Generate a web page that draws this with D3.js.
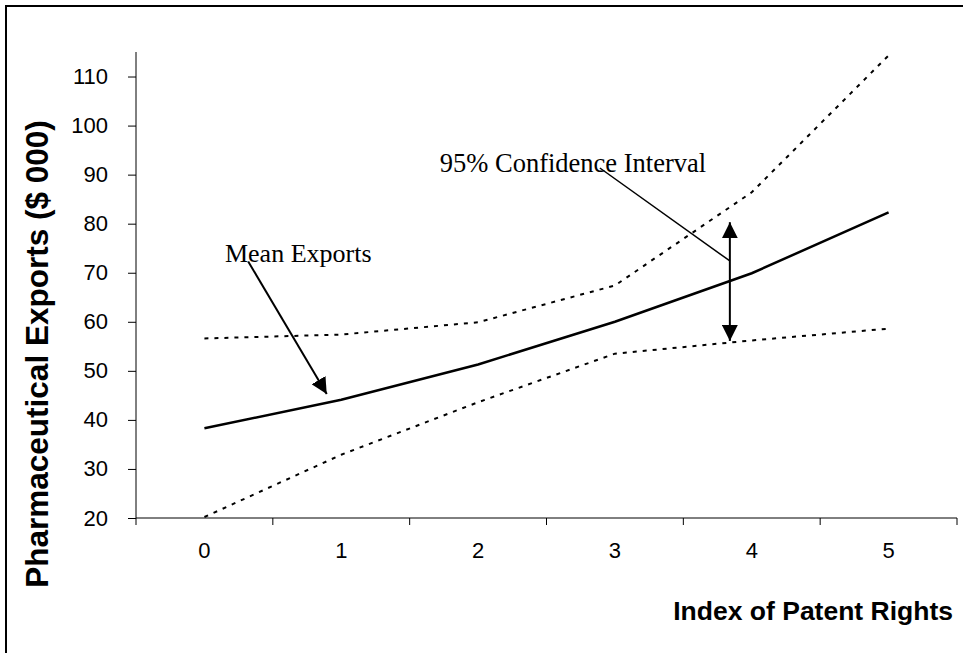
<!DOCTYPE html>
<html><head><meta charset="utf-8">
<script src="https://cdn.jsdelivr.net/npm/d3@7"></script>
<style>html,body{margin:0;padding:0;background:#fff;}svg{display:block;}</style>
</head><body>
<svg id="chart" width="963" height="653"></svg>
<script>
const categories = ["0","1","2","3","4","5"];
const meanExports = [38.3, 44.1, 51.3, 60.0, 69.9, 82.3];
const upperCI = [56.6, 57.4, 59.9, 67.4, 86.4, 114.3];
const lowerCI = [20.2, 32.9, 43.6, 53.5, 56.2, 58.6];
const yTicks = [20,30,40,50,60,70,80,90,100,110];
const yDomain = [20,115];

const svg = d3.select("#chart");

// outer frame (cropped on right/bottom)
svg.append("rect").attr("x",6).attr("y",6).attr("width",1000).attr("height",700)
  .attr("fill","none").attr("stroke","#000").attr("stroke-width",2);

const x = d3.scaleBand().domain(categories).range([136,957]).paddingInner(0).paddingOuter(0);
const xc = c => x(c) + x.bandwidth()/2;
const xLin = d3.scaleLinear().domain([0,5]).range([xc("0"), xc("5")]);
const y = d3.scaleLinear().domain(yDomain).range([518,52]);

const sans = "Liberation Sans, Arial, sans-serif";

// y axis
const ya = svg.append("g").attr("transform","translate(136,0)")
  .call(d3.axisLeft(y).tickValues(yTicks).tickSize(8).tickPadding(20));
ya.select(".domain").attr("d", `M0,${y(yDomain[1])}V${y(yDomain[0])}`).attr("stroke","#000");
ya.selectAll("text").attr("font-family",sans).attr("font-size",22).attr("fill","#000");

// x axis
const xa = svg.append("g").attr("transform","translate(0,518)")
  .call(d3.axisBottom(x).tickSize(0).tickPadding(24));
xa.select(".domain").attr("d","M136,0H957").attr("stroke","#000");
xa.selectAll("text").attr("font-family",sans).attr("font-size",22).attr("fill","#000");
const bounds = categories.map(c => x(c)).concat([x.range()[1]]);
xa.selectAll(".btick").data(bounds).join("line").attr("class","btick")
  .attr("x1",d=>d).attr("x2",d=>d).attr("y1",0).attr("y2",7).attr("stroke","#000");

// axis titles
svg.append("text").attr("transform","translate(48,354) rotate(-90)")
  .attr("text-anchor","middle").attr("font-family",sans)
  .attr("font-weight","bold").attr("font-size",31.5).text("Pharmaceutical Exports ($ 000)");
svg.append("text").attr("x",953).attr("y",620).attr("text-anchor","end")
  .attr("font-family",sans).attr("font-weight","bold")
  .attr("font-size",26.5).text("Index of Patent Rights");

const line = d3.line().x((d,i)=>xc(categories[i])).y(d=>y(d));

svg.append("path").datum(upperCI).attr("d",line).attr("fill","none")
  .attr("stroke","#000").attr("stroke-width",2).attr("stroke-dasharray","4,6");
svg.append("path").datum(lowerCI).attr("d",line).attr("fill","none")
  .attr("stroke","#000").attr("stroke-width",2).attr("stroke-dasharray","4,6");
svg.append("path").datum(meanExports).attr("d",line).attr("fill","none")
  .attr("stroke","#000").attr("stroke-width",2.5);

// arrowhead marker
const defs = svg.append("defs");
defs.append("marker").attr("id","ah").attr("markerUnits","userSpaceOnUse")
  .attr("viewBox","0 0 16 16").attr("refX",16).attr("refY",8)
  .attr("markerWidth",16).attr("markerHeight",16).attr("orient","auto-start-reverse")
  .append("path").attr("d","M0,0L16,8L0,16Z").attr("fill","#000");

// annotations
const serif = "Liberation Serif, Times New Roman, serif";
svg.append("text").attr("x",xLin(0.15)).attr("y",y(72.1)).attr("font-family",serif)
  .attr("font-size",26).text("Mean Exports");
svg.append("line").attr("x1",xLin(0.32)).attr("y1",y(72.3)).attr("x2",xLin(0.894)).attr("y2",y(45.3))
  .attr("stroke","#000").attr("stroke-width",2).attr("marker-end","url(#ah)");

svg.append("text").attr("x",xLin(1.72)).attr("y",y(90.5)).attr("font-family",serif)
  .attr("font-size",26.5).text("95% Confidence Interval");
svg.append("line").attr("x1",xLin(2.89)).attr("y1",y(91.35)).attr("x2",xLin(3.84)).attr("y2",y(72.4))
  .attr("stroke","#000").attr("stroke-width",1.5);
svg.append("line").attr("x1",xLin(3.84)).attr("y1",y(56.1)).attr("x2",xLin(3.84)).attr("y2",y(80.3))
  .attr("stroke","#000").attr("stroke-width",2)
  .attr("marker-start","url(#ah)").attr("marker-end","url(#ah)");
</script>
</body></html>
